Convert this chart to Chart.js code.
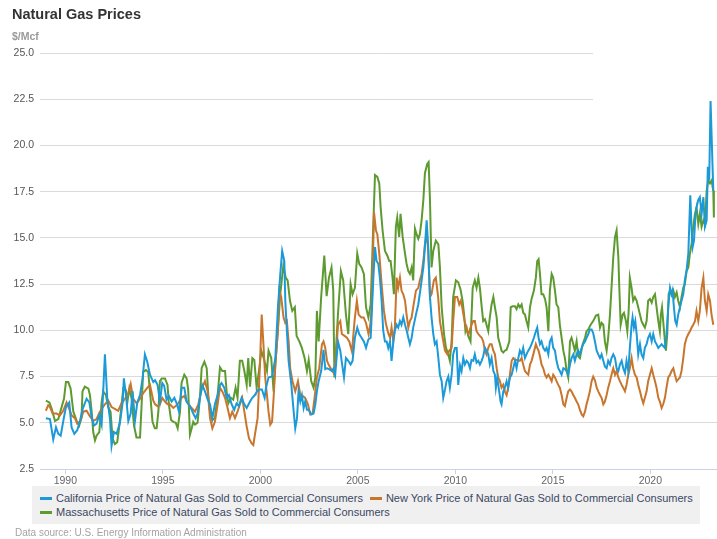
<!DOCTYPE html>
<html>
<head>
<meta charset="utf-8">
<title>Natural Gas Prices</title>
<script src="https://cdn.jsdelivr.net/npm/chart.js@4.4.0/dist/chart.umd.min.js"></script>
<style>
    html, body {
        margin: 0;
        padding: 0;
        background: #ffffff;
    }
    #wrap {
        position: relative;
        width: 717px;
        height: 539px;
        overflow: hidden;
        font-family: "Liberation Sans", Arial, Helvetica, sans-serif;
    }
    #gasChart {
        position: absolute;
        left: 0;
        top: 0;
    }
    #title {
        position: absolute;
        left: 12px;
        top: 6px;
        font-size: 14.5px;
        font-weight: bold;
        color: #333333;
    }
    #unit {
        position: absolute;
        left: 12px;
        top: 30px;
        font-size: 10.5px;
        font-weight: bold;
        color: #9a9a9a;
    }
    #legend {
        position: absolute;
        left: 32px;
        top: 486px;
        width: 668px;
        height: 38px;
        box-sizing: border-box;
        padding: 5px 0 0 8px;
        background: #f0f0f0;
        display: flex;
        flex-wrap: wrap;
        align-content: flex-start;
        font-size: 11px;
        line-height: 14px;
        color: #3b4863;
    }
    .item {
        display: inline-flex;
        align-items: center;
        margin-right: 7px;
        white-space: nowrap;
    }
    .swatch {
        display: inline-block;
        width: 12px;
        height: 3px;
        margin-right: 4px;
    }
    #source {
        position: absolute;
        left: 15px;
        top: 527px;
        font-size: 10px;
        color: #a3a3a3;
    }
</style>
</head>
<body>
<div id="wrap">
    <canvas id="gasChart" width="717" height="539"></canvas>
    <div id="title">Natural Gas Prices</div>
    <div id="unit">$/Mcf</div>
    <div id="legend"></div>
    <div id="source">Data source: U.S. Energy Information Administration</div>
</div>
<script>
/* ==========================================
   DATA  (year, $/Mcf)
   ========================================== */

const yearTicks = [1990, 1995, 2000, 2005, 2010, 2015, 2020];
const priceTicks = [2.5, 5, 7.5, 10, 12.5, 15, 17.5, 20, 22.5, 25];

const seriesNames = [
    "California Price of Natural Gas Sold to Commercial Consumers",
    "New York Price of Natural Gas Sold to Commercial Consumers",
    "Massachusetts Price of Natural Gas Sold to Commercial Consumers"
];

const california = [
    [1989.00,5.25],[1989.21,5.2],[1989.38,4.1],[1989.52,4.75],[1989.64,4.4],[1989.76,4.3],[1989.93,5.3],[1990.03,5.85],
    [1990.2,6.1],[1990.32,4.75],[1990.46,4.4],[1990.61,4.6],[1990.75,5.1],[1990.89,5.75],[1991.09,6.3],[1991.23,6.1],
    [1991.35,5.3],[1991.47,4.85],[1991.6,4.95],[1991.74,5.4],[1991.86,4.9],[1992.03,8.7],[1992.15,6.3],[1992.29,5.2],
    [1992.37,3.75],[1992.49,4.5],[1992.63,4.4],[1992.8,5.0],[1992.94,6.1],[1993.0,7.4],[1993.11,6.5],[1993.23,5.1],
    [1993.35,5.5],[1993.45,6.7],[1993.57,5.1],[1993.69,6.1],[1993.83,6.5],[1993.96,7.4],[1994.08,8.7],[1994.2,8.3],
    [1994.34,7.6],[1994.51,7.2],[1994.6,7.3],[1994.73,7.05],[1994.85,6.15],[1994.97,7.15],[1995.07,7.0],[1995.19,6.25],
    [1995.31,6.45],[1995.45,6.15],[1995.59,6.35],[1995.71,6.05],[1995.83,5.6],[1995.96,6.9],[1996.1,6.9],[1996.22,6.15],
    [1996.39,5.9],[1996.56,5.5],[1996.68,5.25],[1996.78,5.5],[1996.9,6.35],[1997.02,7.05],[1997.16,6.7],[1997.3,6.25],
    [1997.42,6.0],[1997.54,5.25],[1997.67,6.0],[1997.81,6.5],[1997.93,7.05],[1998.01,7.15],[1998.15,6.9],[1998.27,6.35],
    [1998.39,6.5],[1998.53,6.0],[1998.66,5.7],[1998.78,6.05],[1998.9,5.9],[1999.04,6.35],[1999.18,6.0],[1999.3,5.8],
    [1999.47,6.15],[1999.59,6.35],[1999.72,6.5],[1999.86,6.75],[1999.98,6.8],[2000.08,6.8],[2000.22,6.35],[2000.29,6.9],
    [2000.42,7.45],[2000.6,7.5],[2000.77,8.5],[2000.9,11.2],[2001.02,13.0],[2001.12,14.3],[2001.23,13.75],[2001.28,11.6],
    [2001.36,10.0],[2001.45,8.35],[2001.59,7.05],[2001.71,5.6],[2001.79,4.7],[2001.88,5.25],[2001.96,6.7],[2002.05,6.15],
    [2002.13,6.5],[2002.22,5.8],[2002.3,6.15],[2002.39,5.7],[2002.48,5.7],[2002.61,5.45],[2002.73,5.5],[2002.82,6.0],
    [2002.9,6.7],[2002.99,7.25],[2003.12,7.8],[2003.24,8.95],[2003.33,7.9],[2003.42,7.95],[2003.53,7.9],[2003.67,7.8],
    [2003.76,7.95],[2003.84,7.6],[2003.98,9.4],[2004.1,8.9],[2004.17,8.35],[2004.29,7.45],[2004.39,8.5],[2004.51,8.35],
    [2004.63,8.15],[2004.73,8.35],[2004.85,9.6],[2004.97,10.15],[2005.07,9.8],[2005.19,9.6],[2005.31,9.4],[2005.42,9.05],
    [2005.54,9.5],[2005.66,9.6],[2005.79,12.7],[2005.88,14.5],[2005.96,13.75],[2006.05,13.6],[2006.13,12.85],[2006.22,11.6],
    [2006.3,10.0],[2006.39,9.4],[2006.48,9.4],[2006.56,9.05],[2006.65,9.4],[2006.73,8.35],[2006.82,9.4],[2006.9,10.0],
    [2006.99,10.3],[2007.07,10.15],[2007.16,10.5],[2007.24,10.3],[2007.33,10.7],[2007.42,10.3],[2007.5,10.0],[2007.59,9.6],
    [2007.67,9.25],[2007.76,9.6],[2007.84,10.15],[2007.98,10.85],[2008.1,11.4],[2008.22,12.3],[2008.36,13.4],[2008.44,14.5],
    [2008.53,15.95],[2008.61,14.5],[2008.7,11.8],[2008.78,10.7],[2008.87,9.8],[2008.95,9.25],[2009.04,9.4],[2009.13,8.5],
    [2009.21,7.6],[2009.3,7.25],[2009.38,6.35],[2009.47,6.8],[2009.55,7.25],[2009.64,7.5],[2009.72,6.9],[2009.81,7.6],
    [2009.89,8.7],[2009.98,9.05],[2010.07,9.05],[2010.15,7.05],[2010.24,8.1],[2010.32,7.8],[2010.41,8.5],[2010.49,8.15],
    [2010.58,8.35],[2010.66,8.25],[2010.75,7.95],[2010.83,8.4],[2010.92,8.35],[2011.0,8.7],[2011.09,8.25],[2011.18,8.35],
    [2011.26,8.15],[2011.35,8.35],[2011.43,8.6],[2011.52,9.05],[2011.6,8.9],[2011.69,8.7],[2011.77,8.15],[2011.86,8.5],
    [2011.95,7.8],[2012.03,7.6],[2012.08,6.9],[2012.15,7.45],[2012.25,6.7],[2012.32,6.15],[2012.37,6.0],[2012.46,6.7],
    [2012.54,6.9],[2012.63,7.25],[2012.71,6.9],[2012.8,7.45],[2012.89,7.6],[2012.97,7.95],[2013.06,8.35],[2013.14,7.95],
    [2013.23,8.5],[2013.31,8.9],[2013.4,8.7],[2013.48,9.05],[2013.57,8.5],[2013.65,8.7],[2013.74,8.9],[2013.83,9.05],
    [2013.91,9.25],[2014.03,9.6],[2014.13,9.95],[2014.2,10.15],[2014.27,9.6],[2014.34,9.25],[2014.42,9.4],[2014.51,9.05],
    [2014.6,8.9],[2014.68,9.05],[2014.77,8.7],[2014.85,9.4],[2014.94,9.6],[2015.02,9.05],[2015.11,8.9],[2015.19,8.35],
    [2015.28,7.95],[2015.36,7.8],[2015.45,7.6],[2015.54,7.95],[2015.62,7.9],[2015.71,7.8],[2015.79,7.6],[2015.88,8.15],
    [2015.96,8.5],[2016.05,8.7],[2016.13,8.35],[2016.22,8.7],[2016.3,8.9],[2016.39,8.7],[2016.48,9.05],[2016.56,9.25],
    [2016.65,9.4],[2016.73,9.6],[2016.82,9.8],[2016.9,10.05],[2016.99,10.05],[2017.07,9.85],[2017.16,9.4],[2017.25,8.9],
    [2017.33,8.7],[2017.42,8.5],[2017.5,8.7],[2017.59,8.35],[2017.67,8.05],[2017.76,7.95],[2017.84,8.35],[2017.93,8.15],
    [2018.01,8.5],[2018.1,8.7],[2018.19,8.5],[2018.27,7.95],[2018.36,7.8],[2018.44,8.15],[2018.53,8.35],[2018.61,7.95],
    [2018.7,7.7],[2018.78,8.35],[2018.87,7.8],[2018.95,9.05],[2019.04,10.3],[2019.09,10.7],[2019.16,10.15],[2019.23,10.5],
    [2019.3,9.8],[2019.38,8.7],[2019.47,9.25],[2019.55,8.7],[2019.64,8.5],[2019.72,9.05],[2019.81,9.25],[2019.89,9.6],
    [2019.98,9.8],[2020.07,9.4],[2020.15,9.8],[2020.24,9.4],[2020.32,9.25],[2020.41,9.05],[2020.49,9.15],[2020.58,9.25],
    [2020.66,9.15],[2020.75,9.05],[2020.83,9.8],[2020.92,11.25],[2021.01,12.3],[2021.09,11.95],[2021.14,12.15],[2021.21,11.25],
    [2021.28,10.5],[2021.35,10.3],[2021.43,10.85],[2021.52,11.25],[2021.6,11.6],[2021.69,11.95],[2021.77,12.7],[2021.86,13.25],
    [2021.95,14.15],[2022.0,15.75],[2022.05,17.3],[2022.12,15.4],[2022.17,14.5],[2022.24,14.85],[2022.3,15.95],[2022.37,16.65],
    [2022.46,17.05],[2022.54,17.2],[2022.63,16.3],[2022.72,17.2],[2022.8,15.6],[2022.89,15.95],[2022.95,18.85],[2023.02,18.1],
    [2023.09,22.4],[2023.16,19.95],[2023.23,17.55]
];

const newYork = [
    [1989.0,5.65],[1989.12,5.95],[1989.21,5.85],[1989.35,5.5],[1989.55,5.5],[1989.72,5.4],[1989.89,5.65],[1990.06,6.1],
    [1990.2,5.75],[1990.32,5.4],[1990.49,5.25],[1990.61,4.95],[1990.78,5.1],[1990.92,5.6],[1991.09,5.65],[1991.23,5.4],
    [1991.43,5.1],[1991.6,5.2],[1991.77,5.6],[1992.03,6.0],[1992.2,6.2],[1992.37,5.85],[1992.54,5.75],[1992.71,5.65],
    [1992.88,6.05],[1993.06,6.3],[1993.23,6.6],[1993.35,7.1],[1993.48,6.3],[1993.66,6.05],[1993.83,6.3],[1993.99,6.6],
    [1994.17,6.85],[1994.34,7.05],[1994.51,6.2],[1994.6,6.0],[1994.73,5.9],[1994.85,6.0],[1994.97,6.35],[1995.11,6.15],
    [1995.24,6.0],[1995.36,6.0],[1995.54,5.8],[1995.65,5.9],[1995.79,6.05],[1995.96,6.35],[1996.1,6.45],[1996.22,6.15],
    [1996.39,5.9],[1996.65,5.6],[1996.82,6.0],[1996.99,6.8],[1997.16,7.25],[1997.3,6.7],[1997.42,5.25],[1997.54,4.7],
    [1997.67,5.05],[1997.81,6.0],[1997.93,6.9],[1998.05,6.7],[1998.19,6.35],[1998.32,5.8],[1998.44,5.25],[1998.56,5.6],
    [1998.7,5.25],[1998.83,5.6],[1998.95,6.0],[1999.07,6.35],[1999.18,5.6],[1999.3,4.8],[1999.42,4.15],[1999.55,3.9],
    [1999.64,3.8],[1999.72,4.35],[1999.86,5.25],[1999.98,8.15],[2000.07,10.85],[2000.17,9.05],[2000.25,7.45],[2000.34,6.5],
    [2000.42,5.6],[2000.51,4.9],[2000.6,5.05],[2000.68,6.35],[2000.77,8.15],[2000.9,10.0],[2000.97,12.15],[2001.07,11.8],
    [2001.19,10.7],[2001.28,10.4],[2001.36,10.5],[2001.45,9.4],[2001.53,7.95],[2001.65,7.25],[2001.79,6.7],[2001.93,7.25],
    [2002.05,6.5],[2002.17,6.45],[2002.3,6.35],[2002.44,6.0],[2002.56,5.45],[2002.68,5.5],[2002.78,6.35],[2002.9,7.45],
    [2003.02,7.95],[2003.16,9.25],[2003.24,9.4],[2003.33,9.05],[2003.42,8.35],[2003.5,8.15],[2003.64,7.9],[2003.76,7.7],
    [2003.88,8.5],[2003.98,10.3],[2004.1,10.5],[2004.18,9.8],[2004.32,9.7],[2004.44,9.6],[2004.56,9.4],[2004.7,8.85],
    [2004.83,10.5],[2004.95,11.6],[2005.04,10.85],[2005.18,10.7],[2005.3,10.7],[2005.42,10.4],[2005.55,9.8],[2005.64,10.3],
    [2005.72,11.4],[2005.83,16.4],[2005.93,15.4],[2006.0,15.2],[2006.1,14.15],[2006.22,12.5],[2006.34,11.05],[2006.44,10.35],
    [2006.56,9.85],[2006.65,9.6],[2006.73,10.15],[2006.82,9.4],[2006.9,10.15],[2006.99,12.85],[2007.07,12.3],[2007.16,12.85],
    [2007.24,12.15],[2007.33,11.95],[2007.42,11.6],[2007.5,10.85],[2007.59,10.15],[2007.67,10.5],[2007.76,10.7],[2007.84,11.25],
    [2007.98,12.15],[2008.1,12.3],[2008.18,12.7],[2008.27,13.05],[2008.36,13.75],[2008.44,14.65],[2008.53,15.2],[2008.61,14.3],
    [2008.7,11.8],[2008.78,11.95],[2008.9,12.7],[2009.0,12.85],[2009.12,11.8],[2009.21,10.5],[2009.35,9.6],[2009.47,8.9],
    [2009.59,8.7],[2009.69,8.9],[2009.81,9.05],[2009.89,10.5],[2009.98,11.8],[2010.1,11.8],[2010.2,11.4],[2010.28,11.6],
    [2010.36,11.2],[2010.44,10.7],[2010.58,10.0],[2010.68,9.8],[2010.75,10.05],[2010.83,10.3],[2010.92,10.5],[2011.0,10.5],
    [2011.09,9.95],[2011.18,9.8],[2011.26,9.7],[2011.35,9.6],[2011.43,9.4],[2011.52,8.9],[2011.6,8.7],[2011.69,9.05],
    [2011.77,9.25],[2011.86,9.25],[2011.95,8.9],[2012.03,8.7],[2012.12,7.95],[2012.2,7.45],[2012.29,7.25],[2012.37,6.9],
    [2012.46,7.05],[2012.54,6.7],[2012.63,6.5],[2012.71,6.9],[2012.8,7.6],[2012.89,8.35],[2012.97,8.5],[2013.06,8.4],
    [2013.14,8.4],[2013.23,8.35],[2013.31,8.35],[2013.4,8.5],[2013.48,8.15],[2013.57,7.8],[2013.65,7.7],[2013.74,7.6],
    [2013.83,8.15],[2013.91,8.35],[2014.0,8.7],[2014.13,9.25],[2014.2,9.05],[2014.27,8.9],[2014.34,8.6],[2014.42,8.15],
    [2014.51,7.95],[2014.6,7.6],[2014.68,7.45],[2014.77,7.6],[2014.85,7.45],[2014.94,7.25],[2015.02,7.6],[2015.11,7.45],
    [2015.19,7.25],[2015.28,7.05],[2015.36,6.9],[2015.45,6.5],[2015.54,6.0],[2015.62,5.9],[2015.71,6.35],[2015.79,6.7],
    [2015.88,6.8],[2015.96,6.7],[2016.05,6.5],[2016.13,6.35],[2016.22,6.15],[2016.3,6.0],[2016.39,5.7],[2016.48,5.45],
    [2016.56,5.35],[2016.65,5.6],[2016.73,6.0],[2016.82,6.35],[2016.9,6.7],[2016.99,7.25],[2017.07,7.5],[2017.16,7.3],
    [2017.25,6.9],[2017.33,6.7],[2017.42,6.5],[2017.5,6.35],[2017.59,6.0],[2017.67,6.15],[2017.76,6.5],[2017.84,6.9],
    [2017.93,7.25],[2018.01,7.6],[2018.1,7.95],[2018.19,7.6],[2018.27,7.8],[2018.36,7.45],[2018.44,7.25],[2018.53,7.05],
    [2018.61,6.9],[2018.7,6.7],[2018.78,7.05],[2018.87,7.6],[2018.95,7.95],[2019.04,8.5],[2019.12,7.95],[2019.21,7.6],
    [2019.3,7.45],[2019.38,7.05],[2019.47,6.7],[2019.55,6.35],[2019.64,6.05],[2019.72,6.35],[2019.81,6.7],[2019.89,7.25],
    [2019.98,7.6],[2020.07,7.95],[2020.15,7.6],[2020.24,7.25],[2020.32,6.9],[2020.41,6.35],[2020.49,6.15],[2020.58,5.8],
    [2020.66,6.0],[2020.75,6.35],[2020.83,6.9],[2020.92,7.45],[2021.01,7.6],[2021.09,7.8],[2021.18,7.95],[2021.26,7.6],
    [2021.35,7.25],[2021.43,7.35],[2021.52,7.45],[2021.6,7.8],[2021.69,8.5],[2021.77,9.25],[2021.86,9.6],[2021.95,9.8],
    [2022.03,9.95],[2022.12,10.15],[2022.2,10.3],[2022.29,10.5],[2022.37,11.05],[2022.46,10.5],[2022.54,11.05],[2022.63,12.3],
    [2022.72,12.85],[2022.8,11.6],[2022.89,11.05],[2022.97,11.95],[2023.06,11.6],[2023.14,10.85],[2023.23,10.3]
];

const massachusetts = [
    [1989.0,6.2],[1989.18,6.1],[1989.3,5.75],[1989.47,5.1],[1989.64,5.2],[1989.81,5.85],[1989.93,6.3],[1990.03,7.2],
    [1990.15,7.2],[1990.27,6.85],[1990.41,5.6],[1990.58,5.1],[1990.71,4.85],[1990.83,5.3],[1990.88,6.7],[1991.0,6.95],
    [1991.18,6.85],[1991.26,6.5],[1991.35,5.6],[1991.43,4.5],[1991.52,4.05],[1991.6,4.3],[1991.74,4.5],[1991.86,6.1],
    [1991.94,6.7],[1992.08,6.5],[1992.2,5.85],[1992.32,5.6],[1992.42,4.15],[1992.54,3.85],[1992.66,3.95],[1992.77,4.85],
    [1992.88,5.95],[1992.97,6.85],[1993.11,6.75],[1993.18,6.1],[1993.28,6.85],[1993.4,6.3],[1993.52,4.85],[1993.65,4.2],
    [1993.83,4.2],[1993.91,5.95],[1993.99,7.75],[1994.13,7.85],[1994.25,7.75],[1994.34,6.7],[1994.47,5.05],[1994.59,4.7],
    [1994.68,4.7],[1994.77,5.6],[1994.85,7.25],[1994.94,7.4],[1995.11,7.4],[1995.24,7.05],[1995.31,6.0],[1995.42,5.15],
    [1995.54,5.05],[1995.66,5.0],[1995.76,4.7],[1995.88,5.6],[1995.96,7.15],[1996.1,7.6],[1996.22,7.4],[1996.3,6.8],
    [1996.39,4.35],[1996.48,4.7],[1996.56,5.05],[1996.65,4.9],[1996.78,5.0],[1996.9,6.35],[1996.99,7.95],[1997.13,8.3],
    [1997.25,7.95],[1997.33,6.5],[1997.42,5.6],[1997.54,5.15],[1997.67,5.25],[1997.81,6.5],[1997.93,8.0],[1998.05,7.8],
    [1998.19,7.8],[1998.27,6.7],[1998.36,6.05],[1998.49,6.35],[1998.61,6.25],[1998.73,6.9],[1998.83,6.35],[1998.95,8.35],
    [1999.07,8.35],[1999.18,7.8],[1999.3,7.05],[1999.38,8.5],[1999.47,6.95],[1999.59,8.5],[1999.69,8.4],[1999.81,6.9],
    [1999.93,7.8],[2000.05,8.9],[2000.2,8.4],[2000.34,7.8],[2000.42,8.9],[2000.56,8.5],[2000.68,6.7],[2000.77,8.15],
    [2000.9,10.0],[2001.02,11.95],[2001.18,13.5],[2001.3,12.85],[2001.4,12.7],[2001.52,11.6],[2001.64,11.05],[2001.77,11.25],
    [2001.86,9.7],[2002.0,9.4],[2002.13,9.05],[2002.27,8.5],[2002.39,7.8],[2002.48,8.4],[2002.61,7.25],[2002.73,6.9],
    [2002.82,7.45],[2002.9,11.05],[2002.99,9.4],[2003.12,11.8],[2003.28,14.05],[2003.4,11.85],[2003.52,12.85],[2003.65,13.4],
    [2003.74,12.15],[2003.8,7.45],[2003.98,10.85],[2004.13,13.2],[2004.25,12.7],[2004.39,10.85],[2004.51,9.8],[2004.63,12.5],
    [2004.73,11.95],[2004.85,12.3],[2004.97,14.15],[2005.07,13.6],[2005.19,13.4],[2005.31,13.05],[2005.42,11.25],[2005.54,10.7],
    [2005.66,11.4],[2005.79,15.6],[2005.88,18.4],[2006.0,18.3],[2006.1,17.95],[2006.17,16.65],[2006.27,15.4],[2006.39,14.3],
    [2006.51,14.05],[2006.61,13.75],[2006.68,13.75],[2006.78,12.85],[2006.85,11.95],[2006.95,15.6],[2007.02,16.1],[2007.12,15.05],
    [2007.19,16.3],[2007.3,15.05],[2007.42,14.15],[2007.5,13.6],[2007.59,13.2],[2007.67,13.05],[2007.76,13.4],[2007.84,12.7],
    [2007.93,15.5],[2008.01,15.2],[2008.1,14.95],[2008.18,15.2],[2008.27,15.95],[2008.36,17.05],[2008.44,18.5],[2008.56,19.0],
    [2008.63,19.1],[2008.7,17.05],[2008.78,13.4],[2008.87,14.3],[2009.0,14.85],[2009.13,14.65],[2009.21,13.4],[2009.3,11.25],
    [2009.42,9.8],[2009.52,9.05],[2009.64,8.7],[2009.72,8.35],[2009.81,9.4],[2009.89,11.8],[2010.03,12.7],[2010.15,12.6],
    [2010.27,12.2],[2010.37,11.6],[2010.45,10.85],[2010.52,9.95],[2010.58,10.15],[2010.66,9.7],[2010.78,9.4],[2010.89,12.3],
    [2011.0,12.7],[2011.09,12.3],[2011.18,12.85],[2011.26,12.3],[2011.35,11.3],[2011.43,10.5],[2011.52,10.6],[2011.6,10.3],
    [2011.69,9.95],[2011.77,10.7],[2011.86,11.4],[2011.95,11.8],[2012.03,11.25],[2012.12,10.7],[2012.2,9.6],[2012.29,9.25],
    [2012.37,8.9],[2012.46,8.8],[2012.54,8.9],[2012.63,8.95],[2012.77,9.4],[2012.84,11.25],[2012.94,11.3],[2013.06,11.3],
    [2013.14,11.15],[2013.23,11.4],[2013.31,11.25],[2013.4,11.4],[2013.48,10.95],[2013.57,10.85],[2013.65,10.5],[2013.74,10.15],
    [2013.83,11.25],[2013.91,11.7],[2014.03,12.15],[2014.13,12.85],[2014.2,13.75],[2014.27,13.85],[2014.34,13.05],[2014.42,11.95],
    [2014.51,11.95],[2014.6,11.7],[2014.68,11.25],[2014.77,9.95],[2014.85,12.15],[2014.94,13.05],[2015.02,12.85],[2015.11,12.15],
    [2015.19,11.4],[2015.28,11.25],[2015.36,10.3],[2015.45,9.6],[2015.54,8.9],[2015.62,8.5],[2015.71,7.8],[2015.79,7.45],
    [2015.88,9.4],[2015.96,9.6],[2016.05,9.25],[2016.13,8.9],[2016.22,9.4],[2016.3,8.6],[2016.39,8.5],[2016.53,9.25],
    [2016.65,9.6],[2016.73,9.95],[2016.82,10.05],[2016.94,10.3],[2017.07,10.5],[2017.21,10.8],[2017.33,10.85],[2017.42,10.15],
    [2017.5,10.4],[2017.59,10.3],[2017.67,9.4],[2017.76,8.9],[2017.84,9.6],[2017.93,10.85],[2018.01,12.3],[2018.1,13.95],
    [2018.19,15.05],[2018.27,15.4],[2018.36,13.95],[2018.41,12.3],[2018.48,10.3],[2018.58,10.85],[2018.65,10.95],[2018.75,10.5],
    [2018.82,9.95],[2018.89,11.05],[2018.95,12.85],[2019.04,12.3],[2019.12,11.6],[2019.21,11.8],[2019.3,11.6],[2019.38,11.25],
    [2019.47,10.85],[2019.55,10.5],[2019.64,10.3],[2019.72,10.15],[2019.81,10.5],[2019.89,11.6],[2019.98,11.7],[2020.07,11.5],
    [2020.15,11.8],[2020.24,11.95],[2020.32,11.25],[2020.41,10.5],[2020.49,9.95],[2020.54,10.85],[2020.6,11.25],[2020.66,10.5],
    [2020.75,9.4],[2020.8,8.9],[2020.87,9.8],[2020.94,11.95],[2021.01,12.15],[2021.09,11.95],[2021.18,12.15],[2021.26,11.8],
    [2021.35,12.05],[2021.43,11.6],[2021.52,11.25],[2021.6,11.8],[2021.69,12.3],[2021.77,12.5],[2021.86,13.2],[2021.95,13.4],
    [2022.03,14.15],[2022.12,14.7],[2022.2,15.6],[2022.29,16.3],[2022.37,16.65],[2022.46,15.75],[2022.54,16.3],[2022.63,15.6],
    [2022.72,15.95],[2022.8,15.75],[2022.89,17.55],[2022.97,18.1],[2023.06,17.95],[2023.14,18.1],[2023.23,17.55],[2023.26,16.1]
];

/* ==========================================
   CHART
   ========================================== */

const lineColors = ["#1c9ad8", "#c8752d", "#5d9a30"];
const seriesData = [california, newYork, massachusetts];

// the export menu area of the original hides the two top grid lines on the right
const topRightMask = {
    id: "topRightMask",
    beforeDatasetsDraw(chart) {
        const ctx = chart.ctx;
        ctx.save();
        ctx.fillStyle = "#ffffff";
        ctx.fillRect(593, chart.chartArea.top - 3, chart.width - 593, 52);
        ctx.restore();
    }
};

const canvas = document.getElementById("gasChart");

const gasChart = new Chart(canvas, {
    type: "line",
    data: {
        datasets: seriesNames.map((name, i) => ({
            label: name,
            data: seriesData[i],
            borderColor: lineColors[i],
            backgroundColor: lineColors[i],
            borderWidth: 2,
            pointRadius: 0,
            tension: 0,
            fill: false
        }))
    },
    options: {
        responsive: false,
        animation: false,
        layout: {
            padding: { top: 53, bottom: 50, left: 0, right: 0 }
        },
        plugins: {
            legend: { display: false },
            tooltip: { enabled: false }
        },
        scales: {
            x: {
                type: "linear",
                min: 1988.7,
                max: 2023.42,
                afterBuildTicks: scale => {
                    scale.ticks = yearTicks.map(v => ({ value: v }));
                },
                afterFit: scale => {
                    scale.height = 20;
                },
                ticks: {
                    color: "#666666",
                    font: { family: "Liberation Sans", size: 10.5 },
                    padding: 1,
                    maxRotation: 0,
                    callback: value => String(value)
                },
                grid: {
                    drawOnChartArea: false,
                    color: "#c9d3e6",
                    tickLength: 5
                },
                border: {
                    display: true,
                    color: "#c9d3e6"
                }
            },
            y: {
                min: 2.5,
                max: 25,
                afterBuildTicks: scale => {
                    scale.ticks = priceTicks.map(v => ({ value: v }));
                },
                afterFit: scale => {
                    scale.width = 40;
                },
                ticks: {
                    color: "#555555",
                    font: { family: "Liberation Sans", size: 10.5 },
                    padding: 6,
                    callback: value => value.toFixed(1)
                },
                grid: {
                    color: "#dadada",
                    drawTicks: false
                },
                border: { display: false }
            }
        }
    },
    plugins: [topRightMask]
});

// html legend in the grey box
const legendBox = document.getElementById("legend");
seriesNames.forEach((name, i) => {
    const item = document.createElement("span");
    item.className = "item";
    const swatch = document.createElement("span");
    swatch.className = "swatch";
    swatch.style.background = lineColors[i];
    item.appendChild(swatch);
    item.appendChild(document.createTextNode(name));
    legendBox.appendChild(item);
});
</script>
</body>
</html>
